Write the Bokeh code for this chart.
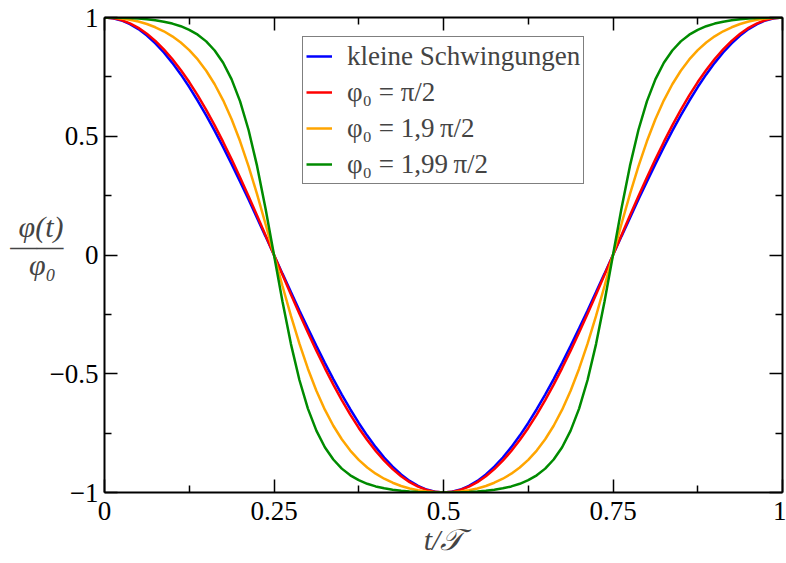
from bokeh.plotting import figure
from bokeh.models import (LinearAxis, FixedTicker, Legend, LegendItem, Range1d,
                          CustomLabelingPolicy)
from bokeh.embed import file_html
from bokeh.resources import INLINE

# t / T sample positions
t = [0.0, 0.0125, 0.025, 0.0375, 0.05, 0.0625, 0.075, 0.0875, 0.1, 0.1125,
     0.125, 0.1375, 0.15, 0.1625, 0.175, 0.1875, 0.2, 0.2125, 0.225, 0.2375,
     0.25, 0.2625, 0.275, 0.2875, 0.3, 0.3125, 0.325, 0.3375, 0.35, 0.3625,
     0.375, 0.3875, 0.4, 0.4125, 0.425, 0.4375, 0.45, 0.4625, 0.475, 0.4875,
     0.5, 0.5125, 0.525, 0.5375, 0.55, 0.5625, 0.575, 0.5875, 0.6, 0.6125,
     0.625, 0.6375, 0.65, 0.6625, 0.675, 0.6875, 0.7, 0.7125, 0.725, 0.7375,
     0.75, 0.7625, 0.775, 0.7875, 0.8, 0.8125, 0.825, 0.8375, 0.85, 0.8625,
     0.875, 0.8875, 0.9, 0.9125, 0.925, 0.9375, 0.95, 0.9625, 0.975, 0.9875, 1.0]

# kleine Schwingungen
y_small = [1, 0.9969, 0.9877, 0.9724, 0.9511, 0.9239, 0.8910, 0.8526, 0.8090, 0.7604,
           0.7071, 0.6494, 0.5878, 0.5225, 0.4540, 0.3827, 0.3090, 0.2334, 0.1564, 0.0785,
           0, -0.0785, -0.1564, -0.2334, -0.3090, -0.3827, -0.4540, -0.5225, -0.5878, -0.6494,
           -0.7071, -0.7604, -0.8090, -0.8526, -0.8910, -0.9239, -0.9511, -0.9724, -0.9877, -0.9969,
           -1, -0.9969, -0.9877, -0.9724, -0.9511, -0.9239, -0.8910, -0.8526, -0.8090, -0.7604,
           -0.7071, -0.6494, -0.5878, -0.5225, -0.4540, -0.3827, -0.3090, -0.2334, -0.1564, -0.0785,
           0, 0.0785, 0.1564, 0.2334, 0.3090, 0.3827, 0.4540, 0.5225, 0.5878, 0.6494,
           0.7071, 0.7604, 0.8090, 0.8526, 0.8910, 0.9239, 0.9511, 0.9724, 0.9877, 0.9969, 1]

# phi0 = pi/2
y_p1 = [1, 0.9973, 0.9891, 0.9754, 0.9562, 0.9316, 0.9016, 0.8661, 0.8254, 0.7793,
        0.7281, 0.6720, 0.6110, 0.5456, 0.4761, 0.4028, 0.3263, 0.2472, 0.1660, 0.0833,
        0, -0.0833, -0.1660, -0.2472, -0.3263, -0.4028, -0.4761, -0.5456, -0.6110, -0.6720,
        -0.7281, -0.7793, -0.8254, -0.8661, -0.9016, -0.9316, -0.9562, -0.9754, -0.9891, -0.9973,
        -1, -0.9973, -0.9891, -0.9754, -0.9562, -0.9316, -0.9016, -0.8661, -0.8254, -0.7793,
        -0.7281, -0.6720, -0.6110, -0.5456, -0.4761, -0.4028, -0.3263, -0.2472, -0.1660, -0.0833,
        0, 0.0833, 0.1660, 0.2472, 0.3263, 0.4028, 0.4761, 0.5456, 0.6110, 0.6720,
        0.7281, 0.7793, 0.8254, 0.8661, 0.9016, 0.9316, 0.9562, 0.9754, 0.9891, 0.9973, 1]

# phi0 = 1,9 pi/2
y_p2 = [1, 0.9990, 0.9959, 0.9906, 0.9829, 0.9725, 0.9589, 0.9420, 0.9207, 0.8946,
        0.8624, 0.8233, 0.7758, 0.7190, 0.6512, 0.5713, 0.4787, 0.3733, 0.2564, 0.1306,
        0, -0.1306, -0.2564, -0.3733, -0.4787, -0.5713, -0.6512, -0.7190, -0.7758, -0.8233,
        -0.8624, -0.8946, -0.9207, -0.9420, -0.9589, -0.9725, -0.9829, -0.9906, -0.9959, -0.9990,
        -1, -0.9990, -0.9959, -0.9906, -0.9829, -0.9725, -0.9589, -0.9420, -0.9207, -0.8946,
        -0.8624, -0.8233, -0.7758, -0.7190, -0.6512, -0.5713, -0.4787, -0.3733, -0.2564, -0.1306,
        0, 0.1306, 0.2564, 0.3733, 0.4787, 0.5713, 0.6512, 0.7190, 0.7758, 0.8233,
        0.8624, 0.8946, 0.9207, 0.9420, 0.9589, 0.9725, 0.9829, 0.9906, 0.9959, 0.9990, 1]

# phi0 = 1,99 pi/2
y_p3 = [1, 0.9998, 0.9990, 0.9976, 0.9956, 0.9926, 0.9883, 0.9825, 0.9744, 0.9633,
        0.9482, 0.9276, 0.8995, 0.8611, 0.8093, 0.7395, 0.6468, 0.5263, 0.3752, 0.1962,
        0, -0.1962, -0.3752, -0.5263, -0.6468, -0.7395, -0.8093, -0.8611, -0.8995, -0.9276,
        -0.9482, -0.9633, -0.9744, -0.9825, -0.9883, -0.9926, -0.9956, -0.9976, -0.9990, -0.9998,
        -1, -0.9998, -0.9990, -0.9976, -0.9956, -0.9926, -0.9883, -0.9825, -0.9744, -0.9633,
        -0.9482, -0.9276, -0.8995, -0.8611, -0.8093, -0.7395, -0.6468, -0.5263, -0.3752, -0.1962,
        0, 0.1962, 0.3752, 0.5263, 0.6468, 0.7395, 0.8093, 0.8611, 0.8995, 0.9276,
        0.9482, 0.9633, 0.9744, 0.9825, 0.9883, 0.9926, 0.9956, 0.9976, 0.9990, 0.9998, 1]

series_labels = ["kleine Schwingungen", "φ₀ = π/2", "φ₀ = 1,9\u2009π/2", "φ₀ = 1,99\u2009π/2"]
series_colors = ["#0000ff", "#ff0000", "#ffa500", "#008b00"]

x_ticks = [0, 0.25, 0.5, 0.75, 1]
x_minor = [0.125, 0.375, 0.625, 0.875]
x_tick_labels = ["0", "0.25", "0.5", "0.75", "1"]
y_ticks = [-1, -0.5, 0, 0.5, 1]
y_minor = [-0.75, -0.25, 0.25, 0.75]
y_tick_labels = ["−1", "−0.5", "0", "0.5", "1"]
x_title = "t/𝒯"
y_title = "φ(t)\n——\nφ₀\u2005\n\u00a0"

SERIF = "Liberation Serif"

p = figure(width=786, height=563, x_range=Range1d(0, 1), y_range=Range1d(-1, 1),
           output_backend="svg", toolbar_location=None,
           min_border_left=104, min_border_right=4, min_border_top=17, min_border_bottom=71)
p.grid.visible = False
p.outline_line_color = None
p.background_fill_color = "white"
p.border_fill_color = "white"

renderers = []
for ys, col in zip([y_small, y_p1, y_p2, y_p3], series_colors):
    r = p.line(t, ys, line_color=col, line_width=2.5)
    renderers.append(r)

def style_axis(ax, ticks, minor, labels, show_labels):
    ax.ticker = FixedTicker(ticks=ticks, minor_ticks=minor)
    ax.axis_line_color = "black"
    ax.axis_line_width = 2
    ax.major_tick_in = 13
    ax.major_tick_out = 0
    ax.minor_tick_in = 7
    ax.minor_tick_out = 0
    ax.major_tick_line_color = "black"
    ax.major_tick_line_width = 1.5
    ax.minor_tick_line_color = "black"
    ax.minor_tick_line_width = 1.5
    if show_labels:
        ax.major_label_overrides = {tk: lb for tk, lb in zip(ticks, labels)}
        ax.major_label_text_font = SERIF
        ax.major_label_text_font_size = "27px"
        ax.major_label_text_color = "black"
    else:
        ax.major_label_overrides = {tk: "" for tk in ticks}
        ax.major_label_policy = CustomLabelingPolicy(code="return new Set()")
        ax.major_label_standoff = 0

xb = p.xaxis[0]
yl = p.yaxis[0]
style_axis(xb, x_ticks, x_minor, x_tick_labels, True)
style_axis(yl, y_ticks, y_minor, y_tick_labels, True)
xb.major_label_standoff = 9
yl.major_label_standoff = 6

xb.axis_label = x_title
xb.axis_label_text_font = SERIF
xb.axis_label_text_font_style = "italic"
xb.axis_label_text_font_size = "30px"
xb.axis_label_standoff = 0

yl.axis_label = y_title
yl.axis_label_orientation = "horizontal"
yl.axis_label_text_align = "center"
yl.axis_label_text_font = SERIF
yl.axis_label_text_font_style = "italic"
yl.axis_label_text_font_size = "30px"
yl.axis_label_text_line_height = 0.57
yl.axis_label_standoff = -17

xt = LinearAxis()
style_axis(xt, x_ticks, x_minor, x_tick_labels, False)
p.add_layout(xt, "above")
yr = LinearAxis()
style_axis(yr, y_ticks, y_minor, y_tick_labels, False)
p.add_layout(yr, "right")

legend = Legend(items=[LegendItem(label=lb, renderers=[r]) for lb, r in zip(series_labels, renderers)],
                location=(198, 308), margin=0, padding=3, spacing=4,
                label_height=32, glyph_height=32, glyph_width=26, label_standoff=15,
                label_text_font=SERIF, label_text_font_size="27px",
                border_line_color="black", border_line_width=1, background_fill_color="white",
                background_fill_alpha=1)
p.add_layout(legend, "center")

open("out.html", "w").write(file_html(p, INLINE))
